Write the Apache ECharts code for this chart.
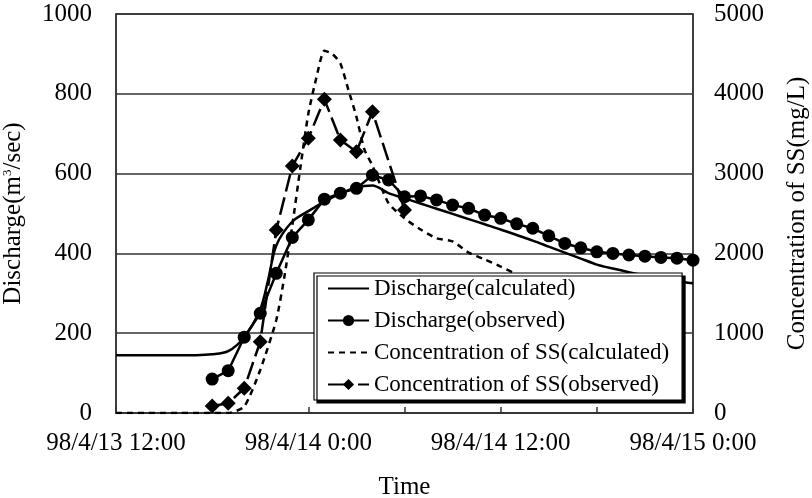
<!DOCTYPE html>
<html>
<head>
  <meta charset="UTF-8" />
  <title>Discharge and SS concentration</title>
  <script src="https://cdn.jsdelivr.net/npm/echarts@6/dist/echarts.min.js"></script>
  <style>
    body { margin: 0; background: #fff; }
    #main { width: 812px; height: 498px; }
  </style>
</head>
<body>
  <div id="main"></div>
  <script>
    // hours counted from 98/4/13 12:00
    const timeLabels = ['98/4/13 12:00', '98/4/14 0:00', '98/4/14 12:00', '98/4/15 0:00'];

    const qCalcHours = [0, 1, 2, 3, 4, 5, 6, 7, 8, 9, 9.5, 10, 11, 12, 13, 14, 15, 16, 17, 18, 19, 20, 21, 22, 23, 24, 25, 26, 27, 28, 29, 30, 31, 32, 33, 34, 35, 36];
    const qCalc = [145, 145, 145, 145, 145, 145, 147, 155, 190, 260, 335, 420, 480, 506, 530, 550, 565, 570, 551, 538, 525, 512, 499, 486, 473, 460, 446, 432, 417, 402, 387, 372, 362, 353, 345, 338, 331, 325];

    const qObsHours = [6, 7, 8, 9, 10, 11, 12, 13, 14, 15, 16, 17, 18, 19, 20, 21, 22, 23, 24, 25, 26, 27, 28, 29, 30, 31, 32, 33, 34, 35, 36];
    const qObs = [85, 106, 190, 250, 350, 440, 484, 536, 551, 563, 596, 584, 542, 544, 534, 521, 513, 496, 488, 474, 463, 444, 425, 414, 404, 400, 396, 393, 390, 388, 383];

    const ssCalcHours = [0, 1, 2, 3, 4, 5, 6, 7, 8, 9, 10, 10.5, 11, 11.5, 12, 12.5, 13, 13.5, 14, 14.5, 15, 15.5, 16, 17, 18, 19, 20, 21, 22, 23, 24, 25, 26, 27, 28, 29, 30, 31, 32, 33, 34, 35];
    const ssCalc = [0, 0, 0, 0, 0, 0, 0, 0, 80, 539, 1165, 1700, 2350, 3070, 3750, 4200, 4540, 4500, 4380, 4050, 3713, 3300, 3100, 2630, 2440, 2300, 2190, 2150, 2010, 1925, 1835, 1740, 1680, 1600, 1520, 1450, 1380, 1320, 1260, 1200, 1150, 1100];

    const ssObsHours = [6, 7, 8, 9, 10, 11, 12, 13, 14, 15, 16, 18];
    const ssObs = [88, 121, 310, 893, 2293, 3095, 3442, 3931, 3421, 3274, 3775, 2545];

    const pairs = (xs, ys) => xs.map((x, i) => [x, ys[i]]);

    const font = 'Liberation Serif';
    const noMark = { color: 'rgba(0,0,0,0)', borderWidth: 0 };
    const chart = echarts.init(document.getElementById('main'));

    chart.setOption({
      animation: false,
      textStyle: { fontFamily: font, color: '#000' },
      grid: {
        left: 116, right: 119, top: 14, bottom: 85,
        outerBoundsMode: 'none', containLabel: false,
        show: true, borderColor: '#333', borderWidth: 1.5
      },
      legend: {
        orient: 'vertical',
        left: 314, top: 273,
        padding: [4, 13, 4, 13],
        itemWidth: 41, itemHeight: 14, itemGap: 9,
        backgroundColor: '#fff',
        borderColor: '#000', borderWidth: 1.2,
        shadowColor: '#000', shadowOffsetX: 3, shadowOffsetY: 3, shadowBlur: 0,
        textStyle: { fontFamily: font, fontSize: 23, lineHeight: 23, color: '#000' },
        data: [
          { name: 'Discharge(calculated)', itemStyle: noMark },
          { name: 'Discharge(observed)' },
          { name: 'Concentration of SS(calculated)', itemStyle: noMark },
          { name: 'Concentration of SS(observed)', lineStyle: { type: [22, 8] } }
        ]
      },
      xAxis: {
        type: 'value', min: 0, max: 36, interval: 6,
        name: 'Time', nameLocation: 'middle', nameGap: 62,
        nameTextStyle: { fontFamily: font, fontSize: 25, color: '#000' },
        axisLine: { lineStyle: { color: '#333', width: 1.5 } },
        axisTick: { inside: true, length: 6, lineStyle: { color: '#333', width: 1.5 } },
        axisLabel: {
          margin: 18, fontSize: 25, color: '#000', fontFamily: font,
          formatter: v => (v % 12 === 0 ? timeLabels[v / 12] : '')
        },
        splitLine: { show: false }
      },
      yAxis: [{
        type: 'value', min: 0, max: 1000, interval: 200,
        name: 'Discharge(m{sup|3}/sec)', nameLocation: 'middle', nameGap: 90, nameRotate: 90,
        nameTextStyle: {
          fontFamily: font, fontSize: 25, color: '#000',
          rich: { sup: { fontFamily: font, fontSize: 13, verticalAlign: 'top', lineHeight: 14, padding: [0, 0, 10, 0] } }
        },
        axisLine: { show: true, lineStyle: { color: '#333', width: 1.5 } },
        axisTick: { show: false },
        axisLabel: { margin: 24, fontSize: 25, color: '#000', fontFamily: font, formatter: v => String(v) },
        splitLine: { lineStyle: { color: '#333', width: 1.5 } }
      }, {
        type: 'value', min: 0, max: 5000, interval: 1000,
        name: 'Concentration of SS(mg/L)', nameLocation: 'middle', nameGap: 92, nameRotate: 90,
        nameTextStyle: { fontFamily: font, fontSize: 25, color: '#000' },
        axisLine: { show: true, lineStyle: { color: '#333', width: 1.5 } },
        axisTick: { show: false },
        axisLabel: { margin: 21, fontSize: 25, color: '#000', fontFamily: font, formatter: v => String(v) },
        splitLine: { show: false }
      }],
      series: [{
        name: 'Discharge(calculated)',
        type: 'line', yAxisIndex: 0, smooth: 0.3,
        showSymbol: false, symbol: 'none',
        lineStyle: { color: '#000', width: 2.5 },
        itemStyle: { color: '#000' },
        data: pairs(qCalcHours, qCalc)
      }, {
        name: 'Discharge(observed)',
        type: 'line', yAxisIndex: 0,
        symbol: 'circle', symbolSize: 13,
        lineStyle: { color: '#000', width: 2.5 },
        itemStyle: { color: '#000' },
        data: pairs(qObsHours, qObs)
      }, {
        name: 'Concentration of SS(calculated)',
        type: 'line', yAxisIndex: 1, smooth: 0.2,
        showSymbol: false, symbol: 'none',
        lineStyle: { color: '#000', width: 2.5, type: [6, 5] },
        itemStyle: { color: '#000' },
        data: pairs(ssCalcHours, ssCalc)
      }, {
        name: 'Concentration of SS(observed)',
        type: 'line', yAxisIndex: 1,
        symbol: 'diamond', symbolSize: 15,
        lineStyle: { color: '#000', width: 2.5, type: [18, 6] },
        itemStyle: { color: '#000' },
        data: pairs(ssObsHours, ssObs)
      }]
    });
  </script>
</body>
</html>
